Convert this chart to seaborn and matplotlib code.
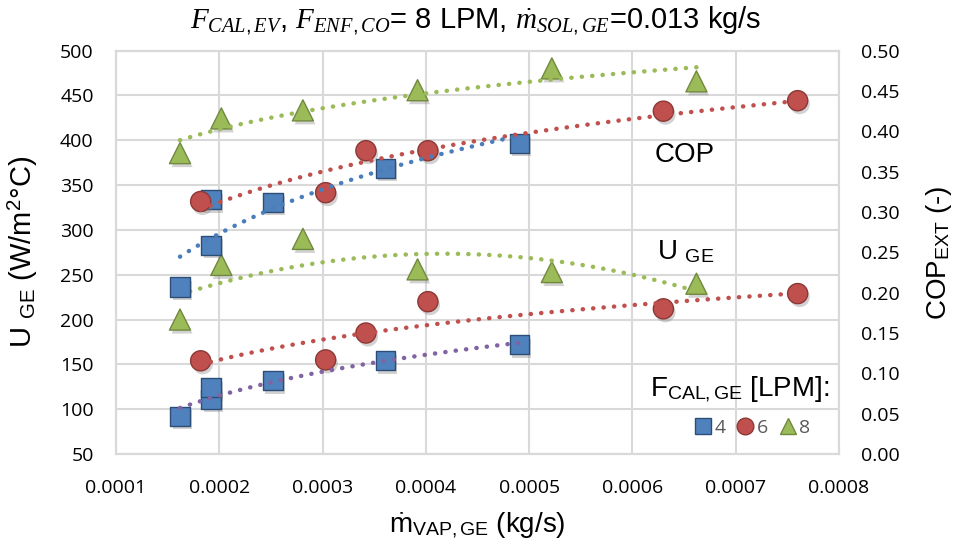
import numpy as np
import pandas as pd
import matplotlib
matplotlib.use("Agg")
import matplotlib.pyplot as plt
import matplotlib.patheffects as pe
import seaborn as sns

# ---- data ----
x_4 = [0.000162, 0.000192, 0.000192, 0.000252, 0.000361, 0.000491]
u_4 = [92, 111, 124, 132, 154, 172]
cop_4 = [0.207, 0.259, 0.315, 0.312, 0.354, 0.385]

x_6 = [0.000182, 0.000303, 0.000342, 0.000402, 0.000630, 0.000760]
u_6 = [154, 155, 185, 220, 212, 229]
cop_6 = [0.313, 0.324, 0.376, 0.376, 0.425, 0.438]

x_8 = [0.000162, 0.000202, 0.000281, 0.000392, 0.000522, 0.000662]
u_8 = [200, 261, 290, 256, 253, 240]
cop_8 = [0.373, 0.416, 0.426, 0.451, 0.478, 0.462]

flows = ["4", "6", "8"]
x_ticks = [0.0001, 0.0002, 0.0003, 0.0004, 0.0005, 0.0006, 0.0007, 0.0008]
u_ticks = list(range(50, 501, 50))
cop_ticks = [0.0, 0.05, 0.10, 0.15, 0.20, 0.25, 0.30, 0.35, 0.40, 0.45, 0.50]

sns.set_theme(style="white")
plt.rcParams["font.family"] = ["Liberation Sans", "DejaVu Sans"]
plt.rcParams["mathtext.fontset"] = "custom"
plt.rcParams["mathtext.rm"] = "Liberation Sans"
plt.rcParams["mathtext.it"] = "Liberation Serif:italic"
plt.rcParams["text.color"] = "black"
plt.rcParams["axes.labelcolor"] = "black"

fig = plt.figure(figsize=(9.64, 5.52), dpi=100)
ax = fig.add_axes([0.1203, 0.1775, 0.7500, 0.7307])
ax2 = ax.twinx()

colors = {"4": "#4f81bd", "6": "#c0504d", "8": "#9bbb59"}
edges = {"4": "#2c4d75", "6": "#8c3836", "8": "#71893f"}
markers = {"4": "s", "6": "o", "8": "^"}
sizes = {"4": 190, "6": 210, "8": 230}
trend_u = {"4": "#8064a2", "6": "#c0504d", "8": "#9bbb59"}
trend_c = {"4": "#4a7ebb", "6": "#c0504d", "8": "#9bbb59"}
u_log = {"4": True, "6": True, "8": False}   # green U trend is polynomial

xs = {"4": x_4, "6": x_6, "8": x_8}
us = {"4": u_4, "6": u_6, "8": u_8}
cops = {"4": cop_4, "6": cop_6, "8": cop_8}

shadow = [pe.SimplePatchShadow(offset=(1.5, -2.5), alpha=0.35, shadow_rgbFace="gray"), pe.Normal()]
dot_kws = dict(linestyle=(0, (0.05, 2.3)), dash_capstyle="round", lw=3.2, zorder=5)

handles = {}
for f in flows:
    df = pd.DataFrame({"x": xs[f], "u": us[f], "cop": cops[f]})
    sc = sns.scatterplot(data=df, x="x", y="u", ax=ax, marker=markers[f], s=sizes[f],
                         color=colors[f], edgecolor=edges[f], linewidth=1.0, zorder=3)
    sc.collections[-1].set_path_effects(shadow)
    sc2 = sns.scatterplot(data=df, x="x", y="cop", ax=ax2, marker=markers[f], s=sizes[f],
                          color=colors[f], edgecolor=edges[f], linewidth=1.0, zorder=3)
    sc2.collections[-1].set_path_effects(shadow)
    if u_log[f]:
        sns.regplot(data=df, x="x", y="u", ax=ax, logx=True, ci=None, scatter=False,
                    color=trend_u[f], line_kws=dot_kws)
    else:
        sns.regplot(data=df, x="x", y="u", ax=ax, order=2, ci=None, scatter=False,
                    color=trend_u[f], line_kws=dot_kws)
    sns.regplot(data=df, x="x", y="cop", ax=ax2, logx=True, ci=None, scatter=False,
                color=trend_c[f], line_kws=dot_kws)
    handles[f] = plt.Line2D([], [], marker=markers[f], linestyle="none", markersize=12,
                            markerfacecolor=colors[f], markeredgecolor=edges[f])

ax.set_xlim(0.0001, 0.0008)
ax.set_ylim(50, 500)
ax2.set_ylim(0, 0.5)
ax.set_xticks(x_ticks)
ax.set_xticklabels([f"{v:.4f}" for v in x_ticks])
ax.set_yticks(u_ticks)
ax2.set_yticks(cop_ticks)
ax2.set_yticklabels([f"{v:.2f}" for v in cop_ticks])

tick_font = ["Open Sans", "DejaVu Sans"]
for a in (ax, ax2):
    a.tick_params(axis="both", length=0, labelsize=14, colors="#000000")
    for s in a.spines.values():
        s.set_color("#d9d9d9")
        s.set_linewidth(1.5)
    for lab in a.get_xticklabels() + a.get_yticklabels():
        lab.set_family(tick_font)
ax.tick_params(axis="x", pad=18)
ax.tick_params(axis="y", pad=16)
ax2.tick_params(axis="y", pad=16)
ax.grid(True, color="#d9d9d9", linewidth=1.5)
ax.set_axisbelow(True)
ax2.grid(False)
ax2.patch.set_visible(False)

ax.set_xlabel(r"ṁ$_{\mathrm{VAP,GE}}$ (kg/s)", fontsize=20, color="black")
ax.xaxis.set_label_coords(0.5, -0.14)
ax.set_ylabel(r"U $_{\mathrm{GE}}$ (W/m$^{\mathrm{2}}$°C)", fontsize=21, color="black")
ax.yaxis.set_label_coords(-0.105, 0.5)
ax2.set_ylabel(r"COP$_{\mathrm{EXT}}$ (-)", fontsize=20, color="black")
ax2.yaxis.set_label_coords(1.118, 0.5)

fig.text(0.493, 0.962, r"$F_{CAL,EV}$, $F_{ENF,CO}$= 8 LPM, $\dot{m}_{SOL,GE}$=0.013 kg/s",
         ha="center", va="center", fontsize=21, color="black")

ax.text(0.000651, 384, "COP", fontsize=20, ha="center", va="center", color="black")
ax.text(0.000652, 268, r"U $_{\mathrm{GE}}$", fontsize=20, ha="center", va="baseline", color="black")
ax.text(0.000791, 114, r"F$_{\mathrm{CAL,GE}}$ [LPM]:", fontsize=20, ha="right", va="baseline",
        color="black")

leg = ax.legend([handles[f] for f in flows], flows, loc="lower right", ncol=3, frameon=False,
                fontsize=14, handlelength=0.8, handletextpad=0.2, columnspacing=0.6,
                bbox_to_anchor=(0.985, 0.0), labelcolor="#595959",
                prop={"family": tick_font, "size": 14})
leg.set_zorder(10)

fig.savefig("out.png", dpi=100)
